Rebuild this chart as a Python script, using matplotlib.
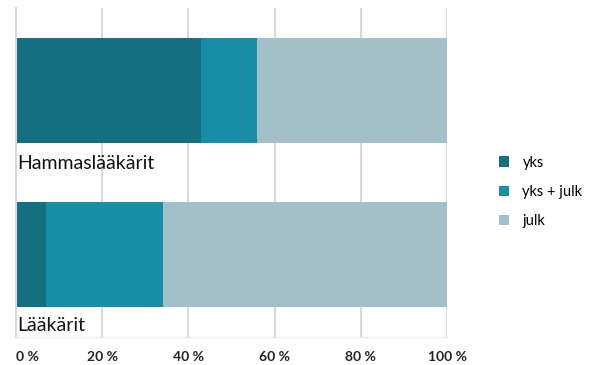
import matplotlib
matplotlib.use("Agg")
import matplotlib.pyplot as plt
from matplotlib.patches import Patch

categories = ["Lääkärit", "Hammaslääkärit"]
series_names = ["yks", "yks + julk", "julk"]
yks = [7, 43]
yks_julk = [27, 13]
julk = [66, 44]
xticks = [0, 20, 40, 60, 80, 100]
xtick_labels = ["0 %", "20 %", "40 %", "60 %", "80 %", "100 %"]

colors = ["#146f80", "#188ea6", "#a3bfca"]

plt.rcParams['font.family'] = ['Lato', 'DejaVu Sans']

fig = plt.figure(figsize=(5.89, 3.65), dpi=100)
ax = fig.add_axes([16/589, 1-337/365, (447-16)/589, (337-8)/365])

ypos = list(range(len(categories)))
left = [0]*len(categories)
for vals, c in zip([yks, yks_julk, julk], colors):
    ax.barh(ypos, vals, left=left, height=0.64, color=c, zorder=2)
    left = [l+v for l, v in zip(left, vals)]

ax.set_xlim(0, 100)
ax.set_ylim(-0.5, 1.5)
ax.set_xticks(xticks)
ax.set_xticklabels(xtick_labels, fontsize=10, fontweight='bold', color='#222222')
ax.get_xticklabels()[0].set_horizontalalignment('left')
ax.tick_params(axis='x', length=0, pad=10)
ax.set_yticks([])
ax.grid(axis='x', color='#d9d9d9', linewidth=1.5, zorder=0)
for s in ['top', 'right']:
    ax.spines[s].set_visible(False)
ax.spines['left'].set_color('#d9d9d9')
ax.spines['left'].set_linewidth(1.5)
ax.spines['bottom'].set_color('#eeeeee')
ax.spines['bottom'].set_linewidth(1)

label_offsets = [-0.43, -0.444]
for y, cat, off in zip(ypos, categories, label_offsets):
    ax.text(0.3, y + off, cat, fontsize=14, va='center', ha='left', color='#111111', zorder=3)

handles = [Patch(facecolor=c, edgecolor='none') for c in colors]
fig.legend(handles, series_names, loc='center left', bbox_to_anchor=(486/589, 1-192/365),
           frameon=False, fontsize=10.5, handlelength=0.7, handleheight=0.7,
           handletextpad=0.9, labelspacing=1.05)

fig.savefig("out.png", dpi=100)
